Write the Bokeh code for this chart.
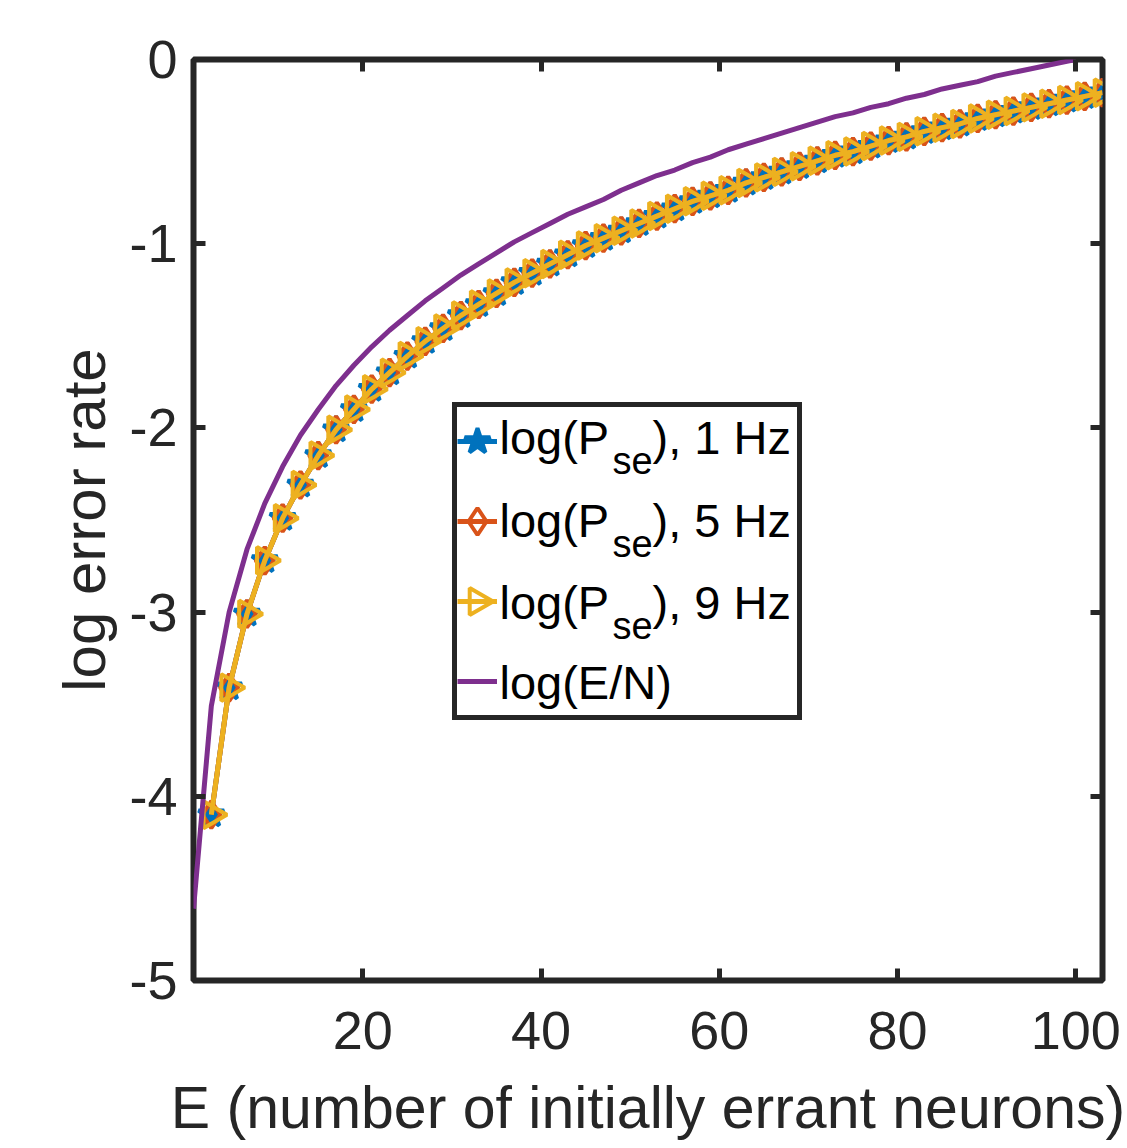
import math
from bokeh.plotting import figure
from bokeh.models import Range1d, LinearAxis, FixedTicker, Legend, LegendItem, Label
from bokeh.embed import file_html
from bokeh.resources import INLINE
from bokeh.core.properties import value

# ---------------- data ----------------
E_pse = [3, 5, 7, 9, 11, 13, 15, 17, 19, 21, 23, 25, 27, 29, 31, 33, 35, 37, 39, 41,
         43, 45, 47, 49, 51, 53, 55, 57, 59, 61, 63, 65, 67, 69, 71, 73, 75, 77, 79, 81,
         83, 85, 87, 89, 91, 93, 95, 97, 99, 101, 103]
logPse_1Hz = [-4.10, -3.41, -3.01, -2.72, -2.49, -2.31, -2.15, -2.01, -1.90, -1.79,
              -1.70, -1.61, -1.53, -1.46, -1.39, -1.33, -1.27, -1.21, -1.16, -1.11,
              -1.06, -1.01, -0.97, -0.93, -0.89, -0.85, -0.81, -0.77, -0.74, -0.71,
              -0.67, -0.64, -0.61, -0.58, -0.55, -0.52, -0.50, -0.47, -0.44, -0.42,
              -0.39, -0.37, -0.35, -0.32, -0.30, -0.28, -0.26, -0.24, -0.22, -0.20, -0.18]
logPse_5Hz = [-4.10, -3.41, -3.01, -2.72, -2.49, -2.31, -2.15, -2.01, -1.90, -1.79,
              -1.70, -1.61, -1.53, -1.46, -1.39, -1.33, -1.27, -1.21, -1.16, -1.11,
              -1.06, -1.01, -0.97, -0.93, -0.89, -0.85, -0.81, -0.77, -0.74, -0.71,
              -0.67, -0.64, -0.61, -0.58, -0.55, -0.52, -0.50, -0.47, -0.44, -0.42,
              -0.39, -0.37, -0.35, -0.32, -0.30, -0.28, -0.26, -0.24, -0.22, -0.20, -0.18]
logPse_9Hz = [-4.10, -3.41, -3.01, -2.72, -2.49, -2.31, -2.15, -2.01, -1.90, -1.79,
              -1.70, -1.61, -1.53, -1.46, -1.39, -1.33, -1.27, -1.21, -1.16, -1.11,
              -1.06, -1.01, -0.97, -0.93, -0.89, -0.85, -0.81, -0.77, -0.74, -0.71,
              -0.67, -0.64, -0.61, -0.58, -0.55, -0.52, -0.50, -0.47, -0.44, -0.42,
              -0.39, -0.37, -0.35, -0.32, -0.30, -0.28, -0.26, -0.24, -0.22, -0.20, -0.18]
E_ratio = [1, 3, 5, 7, 9, 11, 13, 15, 17, 19, 21, 23, 25, 27, 29, 31, 33, 35, 37, 39,
           41, 43, 45, 47, 49, 51, 53, 55, 57, 59, 61, 63, 65, 67, 69, 71, 73, 75, 77, 79,
           81, 83, 85, 87, 89, 91, 93, 95, 97, 99, 100]
log_E_over_N = [-4.61, -3.51, -3.00, -2.66, -2.41, -2.21, -2.04, -1.90, -1.77, -1.66,
                -1.56, -1.47, -1.39, -1.31, -1.24, -1.17, -1.11, -1.05, -0.99, -0.94,
                -0.89, -0.84, -0.80, -0.76, -0.71, -0.67, -0.63, -0.60, -0.56, -0.53,
                -0.49, -0.46, -0.43, -0.40, -0.37, -0.34, -0.31, -0.29, -0.26, -0.24,
                -0.21, -0.19, -0.16, -0.14, -0.12, -0.09, -0.07, -0.05, -0.03, -0.01, 0.00]

x_ticks = [20, 40, 60, 80, 100]
y_ticks = [-5, -4, -3, -2, -1, 0]
y_tick_labels = ["-5", "-4", "-3", "-2", "-1", "0"]
x_label = "E (number of initially errant neurons)"
y_label = "log error rate"
legend_texts = [("log(P", "se", "), 1 Hz"),
                ("log(P", "se", "), 5 Hz"),
                ("log(P", "se", "), 9 Hz"),
                ("log(E/N)", "", "")]

# ---------------- styles / layout ----------------
BLUE, ORANGE, YELLOW, PURPLE = "#0072BD", "#D95319", "#EDB120", "#7E2F8E"
AX = "#262626"
FONT = "Liberation Sans"
W, H = 1127, 1148
ML, MR, MT, MB = 193, 25, 59, 168
X0, X1, Y0, Y1 = 1, 103, -5, 0

p = figure(width=W, height=H, x_range=Range1d(X0, X1), y_range=Range1d(Y0, Y1),
           output_backend="svg", toolbar_location=None,
           min_border_left=ML, min_border_right=MR, min_border_top=MT, min_border_bottom=MB,
           x_axis_label=x_label, y_axis_label=y_label)
p.grid.visible = False
p.background_fill_color = "white"
p.border_fill_color = "white"
p.outline_line_color = AX
p.outline_line_width = 6
p.outline_line_alpha = 1.0


def style_ticks(ax):
    ax.axis_line_color = None
    ax.major_tick_in = 12
    ax.major_tick_out = 0
    ax.major_tick_line_width = 5
    ax.major_tick_line_color = AX
    ax.minor_tick_line_color = None


xa = p.xaxis[0]
xa.ticker = FixedTicker(ticks=x_ticks)
ya = p.yaxis[0]
ya.ticker = FixedTicker(ticks=y_ticks)
ya.major_label_overrides = dict(zip(y_ticks, y_tick_labels))
for ax in (xa, ya):
    style_ticks(ax)
    ax.major_label_text_font = FONT
    ax.major_label_text_font_size = "54px"
    ax.major_label_text_color = AX
    ax.axis_label_text_font = FONT
    ax.axis_label_text_font_style = "normal"
    ax.axis_label_text_color = AX
xa.axis_label_text_font_size = "59px"
ya.axis_label_text_font_size = "60px"
xa.major_label_standoff = 31
xa.axis_label_standoff = 23
ya.major_label_standoff = 16
ya.axis_label_standoff = 8

top_ax = LinearAxis(ticker=FixedTicker(ticks=x_ticks))
right_ax = LinearAxis(ticker=FixedTicker(ticks=y_ticks))
for ax in (top_ax, right_ax):
    style_ticks(ax)
    ax.major_label_text_font_size = "0px"
    ax.major_label_text_color = None
    ax.major_label_standoff = 0
p.add_layout(top_ax, "above")
p.add_layout(right_ax, "right")

# ---------------- series ----------------
LW, MLW, MS = 5, 4, 27
l1 = p.line(E_pse, logPse_1Hz, line_color=BLUE, line_width=LW)
p.scatter(E_pse, logPse_1Hz, marker="star", size=MS, line_color=BLUE,
          fill_color=BLUE, line_width=MLW)
l2 = p.line(E_pse, logPse_5Hz, line_color=ORANGE, line_width=LW)
p.scatter(E_pse, logPse_5Hz, marker="diamond", size=MS, line_color=ORANGE,
          fill_color=None, line_width=MLW)
l3 = p.line(E_pse, logPse_9Hz, line_color=YELLOW, line_width=LW)
p.scatter(E_pse, logPse_9Hz, marker="triangle", angle=-math.pi / 2, size=MS,
          line_color=YELLOW, fill_color=None, line_width=MLW)
l4 = p.line(E_ratio, log_E_over_N, line_color=PURPLE, line_width=LW)

# ---------------- legend ----------------
FL, FT = ML, MT                  # frame edges in page pixels
FR, FB = W - MR, H - MB
BORDER = 5
LEG_L, LEG_T = 452, 402          # legend box (page px)
PAD, ROW_H, GAP, GLYPH_W = 0, 68, 12, 40
LEG_W = 350
n_items = 4
INSET = PAD + BORDER
LEG_H = 2 * INSET + n_items * ROW_H + (n_items - 1) * GAP

legend = Legend(
    items=[LegendItem(label=value(""), renderers=[r]) for r in (l1, l2, l3, l4)],
    location=(LEG_L - FL, FB - (LEG_T + LEG_H)),
    orientation="vertical", margin=0, padding=PAD, spacing=GAP,
    glyph_width=GLYPH_W, glyph_height=ROW_H, label_height=ROW_H,
    label_standoff=5, label_width=LEG_W - 2 * INSET - GLYPH_W - 5,
    label_text_font_size="1px",
    border_line_color=AX, border_line_width=BORDER, border_line_alpha=1.0,
    background_fill_color="white", background_fill_alpha=0.0)
p.add_layout(legend)


def px_to_x(px):
    return X0 + (px - FL) * (X1 - X0) / (FR - FL)


def px_to_y(py):
    return Y1 - (py - FT) * (Y1 - Y0) / (FB - FT)


key_cx = LEG_L + INSET + GLYPH_W / 2
key_cy = [LEG_T + INSET + ROW_H / 2 + i * (ROW_H + GAP) for i in range(3)]
key_x = [px_to_x(key_cx)]
k1 = p.scatter(key_x, [px_to_y(key_cy[0])], marker="star", size=MS, line_color=BLUE,
               fill_color=BLUE, line_width=MLW)
k2 = p.scatter(key_x, [px_to_y(key_cy[1])], marker="diamond", size=MS, line_color=ORANGE,
               fill_color="white", line_width=MLW)
k3 = p.scatter(key_x, [px_to_y(key_cy[2])], marker="triangle", angle=-math.pi / 2, size=MS,
               line_color=YELLOW, fill_color="white", line_width=MLW)
for k in (k1, k2, k3):
    k.level = "overlay"

TXT_X, SUB_X, TAIL_X = 499, 612, 652
BASE_SHIFT = 15                  # Label alphabetic baseline renders this much lower
base_y = [452, 535, 617, 697]
sub_y = [475, 558, 640, 0]
for (main, sub, tail), by, sy in zip(legend_texts, base_y, sub_y):
    by -= BASE_SHIFT
    sy -= BASE_SHIFT
    p.add_layout(Label(x=TXT_X - FL, y=FB - by, x_units="screen", y_units="screen",
                       text=main, text_font=FONT, text_font_size="47px",
                       text_color="black", text_baseline="alphabetic", text_align="left"))
    if sub:
        p.add_layout(Label(x=SUB_X - FL, y=FB - sy, x_units="screen", y_units="screen",
                           text=sub, text_font=FONT, text_font_size="38px",
                           text_color="black", text_baseline="alphabetic", text_align="left"))
    if tail:
        p.add_layout(Label(x=TAIL_X - FL, y=FB - by, x_units="screen", y_units="screen",
                           text=tail, text_font=FONT, text_font_size="47px",
                           text_color="black", text_baseline="alphabetic", text_align="left"))

open("out.html", "w").write(file_html(p, INLINE))
